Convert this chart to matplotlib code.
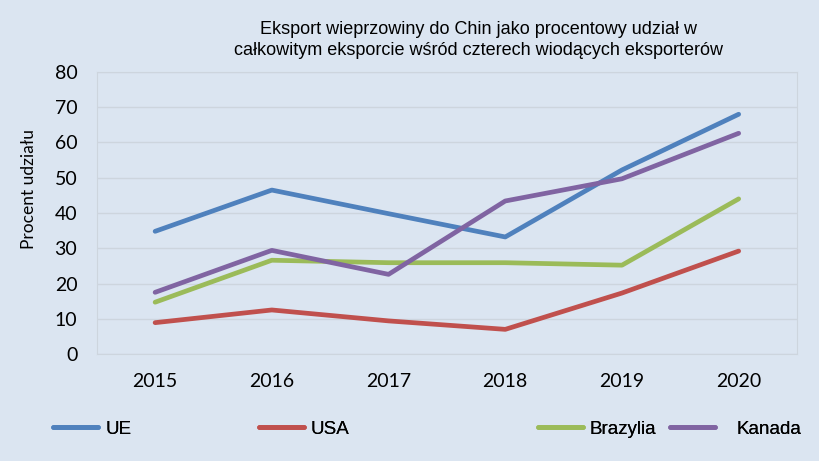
import matplotlib.pyplot as plt
from matplotlib.lines import Line2D

plt.rcParams['font.family'] = ['Liberation Sans', 'DejaVu Sans']

years = ["2015", "2016", "2017", "2018", "2019", "2020"]
ue = [34.8, 46.5, 39.8, 33.2, 52.2, 68.0]
usa = [8.9, 12.5, 9.4, 7.0, 17.3, 29.2]
brazylia = [14.7, 26.6, 25.9, 25.9, 25.2, 44.0]
kanada = [17.5, 29.4, 22.6, 43.4, 49.7, 62.6]

series = [
    ("UE", ue, "#4f81bd"),
    ("USA", usa, "#c0504d"),
    ("Brazylia", brazylia, "#9bbb59"),
    ("Kanada", kanada, "#8064a2"),
]

bg = "#dbe5f1"
axis_font = ['Lato', 'DejaVu Sans']

fig = plt.figure(figsize=(8.2, 4.61), dpi=100, facecolor=bg)
ax = fig.add_axes([0.118, 0.232, 0.854, 0.612], facecolor=bg)

x = range(len(years))
for name, vals, col in series:
    ax.plot(x, vals, color=col, linewidth=3.4, solid_capstyle="round",
            solid_joinstyle="round", label=name)

ax.set_xlim(-0.5, len(years) - 0.5)
ax.set_ylim(0, 80)
ax.set_yticks(range(0, 81, 10))
ax.set_xticks(list(x))
ax.set_xticklabels(years)
ax.grid(axis="y", color="#cdd5de", linewidth=1.0)
ax.set_axisbelow(True)
for sp in ax.spines.values():
    sp.set_color("#cdd5de")
ax.tick_params(length=0, labelsize=14, pad=14)
for lab in ax.get_xticklabels() + ax.get_yticklabels():
    lab.set_family(axis_font)

ax.set_ylabel("Procent udziału", fontsize=12.5, family=axis_font)
ax.yaxis.set_label_coords(-0.085, 0.585)

fig.text(0.584, 0.913,
         "Eksport wieprzowiny do Chin jako procentowy udział w\n"
         "całkowitym eksporcie wśród czterech wiodących eksporterów",
         ha="center", va="center", fontsize=13, linespacing=1.3)

# legend entries placed separately, as in the original layout
legend_x = [0.0446, 0.295, 0.636, 0.797]
for (name, vals, col), lx in zip(series, legend_x):
    h = Line2D([], [], color=col, linewidth=3.4, solid_capstyle="round")
    lg = fig.legend([h], [name], loc="center left", bbox_to_anchor=(lx, 0.069),
                    frameon=False, fontsize=13.5, handlelength=2.4,
                    handletextpad=0.35 if name != "Kanada" else 1.1)
    fig.add_artist(lg)

fig.savefig("out.png", dpi=100, facecolor=bg)
